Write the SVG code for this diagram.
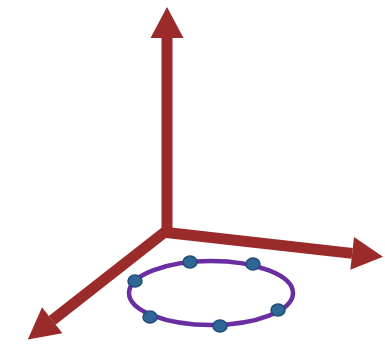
<svg xmlns="http://www.w3.org/2000/svg" width="385" height="347" viewBox="0 0 385 347">
<style>
.axis{fill:none;stroke:#9b2a2b;stroke-width:11;stroke-linejoin:miter;stroke-linecap:butt}
.ring{fill:none;stroke:#6a2ea2;stroke-width:4.5}
.dot{fill:#2f6696;stroke:#1f4d78;stroke-width:1.5}
</style>
<defs>
<marker id="head" markerUnits="userSpaceOnUse" markerWidth="32" markerHeight="34" refX="0" refY="16.5" orient="auto" overflow="visible">
<path d="M0,0 L31,16.5 L0,33 Z" fill="#9b2a2b"/>
</marker>
</defs>
<rect width="385" height="347" fill="#ffffff"/>
<g id="connectors">
<path class="axis" d="M167,232 L167,38" marker-end="url(#head)"/>
<path class="axis" d="M162,232 L352.2,253.4" marker-end="url(#head)"/>
<path class="axis" d="M170,228 L52.2,320.3" marker-end="url(#head)"/>
</g>
<g id="ring">
<ellipse class="ring" cx="211" cy="293" rx="82" ry="32"/>
</g>
<g id="dot1"><ellipse class="dot" cx="190" cy="262" rx="7" ry="6"/></g>
<g id="dot2"><ellipse class="dot" cx="253" cy="264" rx="7" ry="6"/></g>
<g id="dot3"><ellipse class="dot" cx="135" cy="281" rx="7" ry="6"/></g>
<g id="dot4"><ellipse class="dot" cx="278" cy="310" rx="7" ry="6"/></g>
<g id="dot5"><ellipse class="dot" cx="150" cy="317" rx="7" ry="6"/></g>
<g id="dot6"><ellipse class="dot" cx="220" cy="326" rx="7" ry="6"/></g>
</svg>
